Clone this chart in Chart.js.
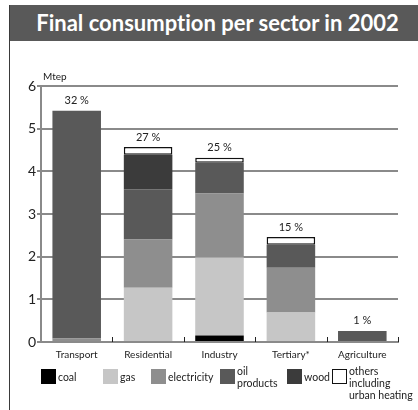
<!DOCTYPE html>
<html>
<head>
<meta charset="utf-8">
<script src="https://cdn.jsdelivr.net/npm/chart.js@4.4.1/dist/chart.umd.min.js"></script>
<style>
  body { margin: 0; background: #fff; font-family: Lato, "DejaVu Sans", sans-serif; }
  #page { position: relative; width: 418px; height: 410px; overflow: hidden; }
  #frame { position: absolute; left: 9px; top: 5px; width: 1px; height: 405px; background: #3a3a3a; }
  #title {
    position: absolute; left: 9px; top: 5px; width: 401px; height: 36px; padding-left: 8px;
    background: #595959; color: #fff; font: bold 22px Lato, sans-serif;
    font-variant-ligatures: none;
    line-height: 36px; text-align: center; white-space: nowrap;
  }
  #chart { position: absolute; left: 0; top: 0; }
  .lg-box { position: absolute; width: 15px; height: 15px; box-sizing: border-box; }
  .lg-text { position: absolute; font-size: 10.5px; line-height: 12px; color: #222; white-space: pre; }
</style>
</head>
<body>
<div id="page">
  <canvas id="chart" width="418" height="410"></canvas>
  <div id="title">Final consumption per sector in 2002</div>
  <div id="frame"></div>
  <div id="legend"></div>
</div>
<script>
// Data (Mtep)
const categories = ['Transport', 'Residential', 'Industry', 'Tertiary*', 'Agriculture'];
const coal = [0, 0, 0.15, 0, 0];
const gas = [0, 1.27, 1.83, 0.69, 0];
const electricity = [0.08, 1.13, 1.50, 1.05, 0];
const oilProducts = [5.34, 1.18, 0.72, 0.54, 0.26];
const wood = [0, 0.81, 0, 0, 0];
const others = [0, 0.18, 0.12, 0.18, 0];
const shareLabels = ['32 %', '27 %', '25 %', '15 %', '1 %'];
const yTicks = [0, 1, 2, 3, 4, 5, 6];

const seriesNames = ['coal', 'gas', 'electricity', 'oil\nproducts', 'wood', 'others\nincluding\nurban heating'];
const seriesValues = [coal, gas, electricity, oilProducts, wood, others];
const seriesColors = ['#000000', '#c6c6c6', '#8e8e8e', '#595959', '#3b3b3b', '#ffffff'];

const datasets = seriesValues.map((vals, i) => ({
    label: seriesNames[i].replace(/\n/g, ' '),
    data: vals,
    backgroundColor: seriesColors[i],
    borderColor: '#111',
    borderWidth: i === 5 ? 1.5 : 0,
    borderSkipped: false,
}));

// share labels above each bar, plus "Mtep" and the small category ticks
const extrasPlugin = {
    id: 'extras',
    afterDatasetsDraw(chart) {
        const { ctx, chartArea, scales } = chart;
        const y = scales.y;
        const x = scales.x;
        const meta = chart.getDatasetMeta(0);
        ctx.save();
        ctx.fillStyle = '#222';
        ctx.font = '11px Lato, sans-serif';
        ctx.textAlign = 'center';
        ctx.textBaseline = 'middle';
        categories.forEach((c, i) => {
            const total = seriesValues.reduce((s, arr) => s + arr[i], 0);
            ctx.fillText(shareLabels[i], meta.data[i].x, y.getPixelForValue(total) - 10);
        });

        ctx.textAlign = 'left';
        ctx.font = '10px Lato, sans-serif';
        ctx.fillText('Mtep', chartArea.left + 2, chartArea.top - 9);

        ctx.strokeStyle = '#222';
        ctx.lineWidth = 1;
        categories.forEach((c, i) => {
            const px = i < categories.length - 1
                ? (x.getPixelForValue(i) + x.getPixelForValue(i + 1)) / 2
                : chartArea.right;
            ctx.beginPath();
            ctx.moveTo(Math.round(px) + 0.5, chartArea.bottom);
            ctx.lineTo(Math.round(px) + 0.5, chartArea.bottom - 5);
            ctx.stroke();
        });
        ctx.restore();
    }
};

new Chart(document.getElementById('chart'), {
    type: 'bar',
    data: { labels: categories, datasets: datasets },
    options: {
        responsive: false,
        animation: false,
        layout: { padding: { top: 86, right: 20, bottom: 48, left: 0 } },
        datasets: { bar: { barPercentage: 1, categoryPercentage: 0.68 } },
        plugins: { legend: { display: false }, tooltip: { enabled: false } },
        scales: {
            x: {
                stacked: true,
                grid: { display: true, drawOnChartArea: false, drawTicks: false },
                border: { color: '#8a8a8a', width: 2 },
                ticks: { color: '#222', font: { family: 'Lato', size: 10 }, padding: 7 },
                afterFit(scale) { scale.height = 20; }
            },
            y: {
                stacked: true,
                min: 0,
                max: 6,
                afterBuildTicks(scale) { scale.ticks = yTicks.map(v => ({ value: v })); },
                grid: { color: '#8a8a8a', lineWidth: 2, tickLength: 4 },
                border: { color: '#8a8a8a', width: 2 },
                ticks: { color: '#222', font: { family: 'Lato', size: 14 }, padding: 1 },
                afterFit(scale) { scale.width = 41; }
            }
        }
    },
    plugins: [extrasPlugin]
});

// Legend
const legendEl = document.getElementById('legend');
const legendLeft = [41, 103, 151, 220, 287, 332];
seriesNames.forEach((name, i) => {
    const box = document.createElement('div');
    box.className = 'lg-box';
    box.style.left = legendLeft[i] + 'px';
    box.style.top = '369px';
    box.style.background = seriesColors[i];
    if (i === 5) box.style.border = '1.5px solid #111';
    legendEl.appendChild(box);

    const txt = document.createElement('div');
    txt.className = 'lg-text';
    txt.textContent = name;
    txt.style.left = (legendLeft[i] + 17) + 'px';
    txt.style.top = (name.includes('\n') ? 365 : 371) + 'px';
    legendEl.appendChild(txt);
});
</script>
</body>
</html>
